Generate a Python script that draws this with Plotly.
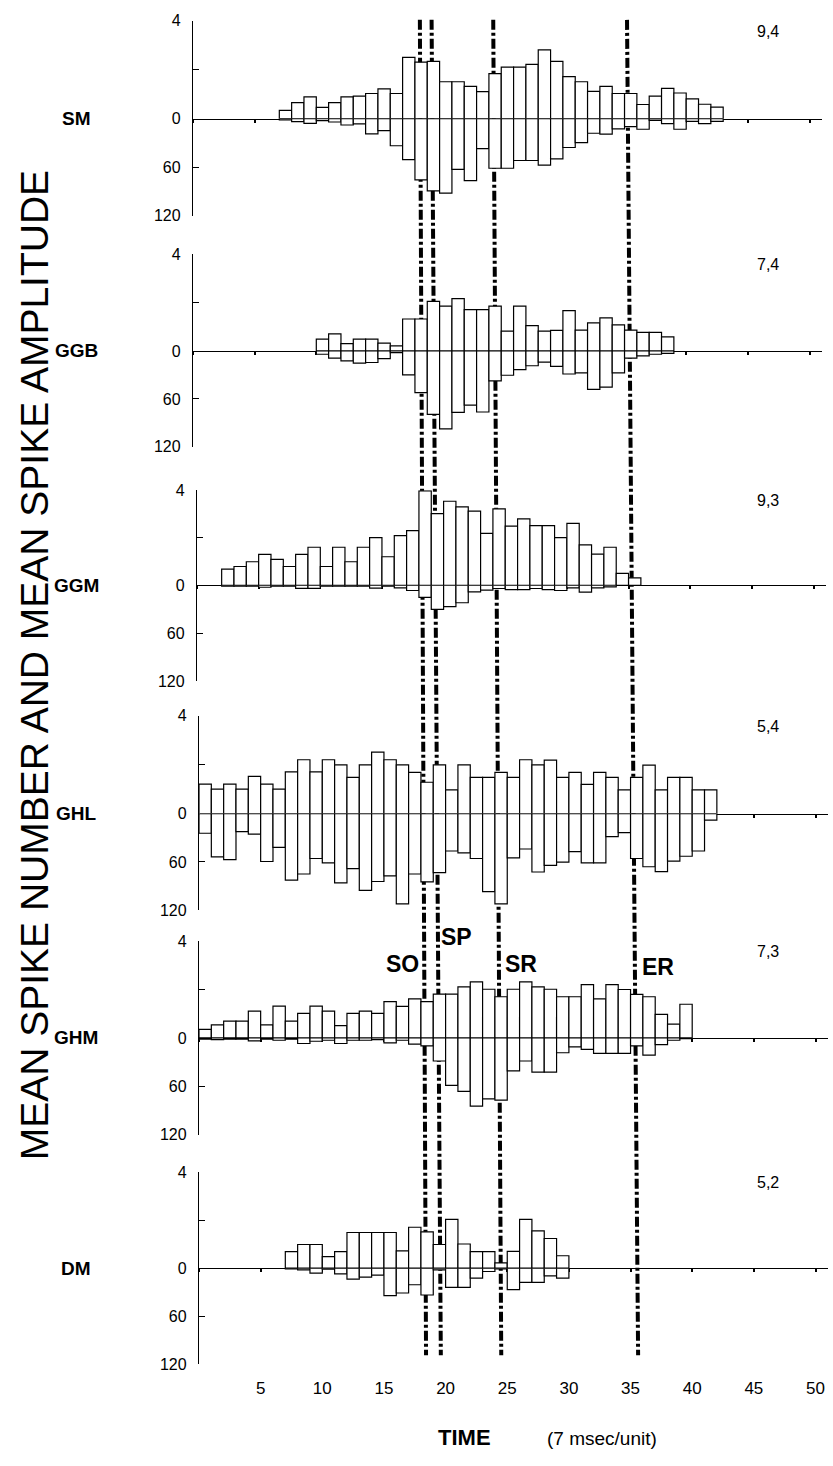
import plotly.graph_objects as go

W, H = 833, 1466
FONT = "Liberation Sans, Arial, Helvetica, sans-serif"

# ---------------- data ----------------
PANELS = ["SM", "GGB", "GGM", "GHL", "GHM", "DM"]
RIGHT_LABELS = ["9,4", "7,4", "9,3", "5,4", "7,3", "5,2"]
X_TICKS = [5, 10, 15, 20, 25, 30, 35, 40, 45, 50]

# first time unit of each panel's histogram
SM_START = 7
SM_COUNT = [0.34, 0.66, 0.89, 0.46, 0.66, 0.89, 0.92, 1.03, 1.22, 1.03,
            2.51, 2.31, 2.34, 1.51, 1.51, 1.32, 1.11, 1.84, 2.11, 2.11,
            2.22, 2.81, 2.34, 1.72, 1.51, 1.12, 1.32, 1.03, 1.03, 0.58,
            0.92, 1.24, 1.05, 0.81, 0.59, 0.47]
SM_AMP = [1.6, 3.7, 5.7, 2.4, 4.1, 7.8, 6.5, 18.8, 14.7, 33.5,
          50.6, 75.9, 89.4, 92.2, 62.9, 76.7, 37.1, 61.4, 61.4, 51.8,
          51.8, 57.5, 49.8, 35.7, 29.6, 18.0, 19.2, 12.7, 9.8, 13.1,
          2.0, 6.1, 13.1, 3.3, 6.1, 3.3]

GGB_START = 10
GGB_COUNT = [0.49, 0.71, 0.30, 0.49, 0.49, 0.32, 0.21, 1.32, 1.32, 2.05,
             1.85, 2.16, 1.71, 1.71, 1.85, 0.82, 1.85, 1.05, 0.82, 0.85,
             1.67, 0.86, 1.16, 1.37, 1.08, 0.86, 0.77, 0.77, 0.58]
GGB_AMP = [4.1, 9.0, 12.3, 15.2, 14.4, 9.5, 2.1, 30.0, 52.2, 79.3,
           97.4, 76.9, 67.8, 76.4, 37.4, 30.4, 23.4, 18.5, 13.9, 19.3,
           28.8, 27.5, 48.0, 45.2, 27.5, 9.0, 6.2, 4.1, 2.9]

GGM_START = 2
GGM_COUNT = [0.68, 0.79, 0.99, 1.30, 1.09, 0.79, 1.30, 1.60, 0.79, 1.60,
             0.99, 1.60, 2.01, 1.20, 2.09, 2.30, 3.98, 3.02, 3.54, 3.30,
             3.12, 2.19, 3.22, 2.49, 2.80, 2.51, 2.51, 2.01, 2.61, 1.70,
             1.31, 1.60, 0.50, 0.31]
GGM_AMP = [1.0, 1.0, 1.0, 2.5, 1.0, 1.0, 4.0, 4.0, 1.0, 1.0,
           1.0, 1.0, 3.7, 1.0, 3.3, 6.6, 15.3, 30.1, 26.8, 21.9,
           8.2, 6.2, 4.1, 5.4, 5.4, 4.1, 5.4, 6.6, 3.3, 8.7,
           3.3, 2.0, 0.0, 0.0]

GHL_START = 0
GHL_COUNT = [1.20, 1.00, 1.20, 1.00, 1.52, 1.20, 1.00, 1.70, 2.20, 1.70,
             2.20, 1.99, 1.48, 1.99, 2.51, 2.20, 1.99, 1.68, 1.28, 1.99,
             0.97, 1.99, 1.48, 1.48, 1.68, 1.48, 2.20, 1.99, 2.18, 1.48,
             1.68, 1.19, 1.68, 1.48, 0.97, 1.48, 1.98, 0.97, 1.48, 1.48,
             0.97, 0.97]
GHL_AMP = [24.4, 53.7, 57.0, 22.4, 25.6, 59.4, 41.9, 82.6, 74.9, 55.7,
           61.0, 85.8, 68.3, 95.2, 84.2, 77.3, 111.9, 74.9, 84.6, 73.2,
           46.4, 48.8, 55.7, 96.8, 111.9, 54.9, 43.9, 72.4, 64.3, 60.2,
           47.2, 61.0, 61.0, 28.5, 23.6, 55.7, 65.9, 72.0, 59.0, 52.9,
           46.4, 8.1]

GHM_START = 0
GHM_COUNT = [0.35, 0.54, 0.69, 0.69, 1.11, 0.54, 1.31, 0.69, 1.01, 1.31,
             1.11, 0.51, 1.01, 1.11, 1.01, 1.50, 1.30, 1.61, 1.50, 1.81,
             1.81, 2.11, 2.31, 2.01, 1.70, 2.01, 2.31, 2.11, 2.01, 1.70,
             1.70, 2.20, 1.61, 2.20, 2.00, 1.80, 1.70, 0.97, 0.57, 1.39]
GHM_AMP = [1.6, 2.0, 1.6, 1.6, 3.7, 1.6, 2.9, 1.6, 6.9, 4.1,
           2.9, 6.9, 2.9, 2.9, 2.0, 6.1, 2.9, 7.8, 9.8, 28.6,
           58.8, 66.1, 84.5, 75.5, 77.1, 40.8, 28.6, 42.4, 42.4, 18.4,
           11.0, 14.3, 19.2, 19.2, 19.2, 9.8, 21.2, 8.2, 2.9, 0.8]

DM_START = 7
DM_COUNT = [0.69, 0.99, 0.99, 0.48, 0.69, 1.49, 1.49, 1.49, 1.49, 0.72,
            1.71, 1.52, 0.99, 2.04, 1.01, 0.69, 0.69, 0.22, 0.70, 2.04,
            1.56, 1.24, 0.52]
DM_AMP = [0.8, 2.1, 6.2, 1.2, 7.0, 13.7, 11.2, 8.7, 34.3, 31.0,
          20.7, 33.5, 2.1, 24.0, 24.0, 12.4, 4.1, 1.0, 26.9, 17.8,
          17.8, 9.5, 12.4]

STARTS = [SM_START, GGB_START, GGM_START, GHL_START, GHM_START, DM_START]
COUNTS = [SM_COUNT, GGB_COUNT, GGM_COUNT, GHL_COUNT, GHM_COUNT, DM_COUNT]
AMPS = [SM_AMP, GGB_AMP, GGM_AMP, GHL_AMP, GHM_AMP, DM_AMP]

# event markers (time units, SM axis): top and bottom ends of each slanted line
EVENTS = ["SO", "SP", "SR", "ER"]
EVENT_TOP = [18.4, 19.35, 24.35, 35.2]
EVENT_BOTTOM = [18.9, 20.1, 25.0, 36.1]

# ---------------- layout geometry (pixels) ----------------
AXIS_X = [193, 193, 197, 199, 199, 199]
Y4 = [13, 249, 488, 716, 944, 1178]
Y0 = [112, 347, 584, 815, 1042, 1275]
Y120 = [210, 444, 681, 913, 1140, 1372]
UNIT_PX = 12.33
X_MAX = 51


def py(p):
    return 1 - p / H


fig = go.Figure()
lay = dict(
    width=W, height=H, margin=dict(l=0, r=0, t=0, b=0),
    paper_bgcolor="white", plot_bgcolor="rgba(0,0,0,0)",
    showlegend=False, barmode="overlay",
    font=dict(family=FONT, color="black"),
)

bar_style = dict(marker=dict(color="white", line=dict(color="black", width=1.2)),
                 width=1, hoverinfo="skip", cliponaxis=True)

annotations = []
for i, name in enumerate(PANELS):
    xi = i + 1
    yc = 2 * i + 1
    ya = 2 * i + 2
    xs = [STARTS[i] + k + 0.5 for k in range(len(COUNTS[i]))]
    fig.add_trace(go.Bar(x=xs, y=COUNTS[i], base=0, xaxis=f"x{xi}", yaxis=f"y{yc}", **bar_style))
    fig.add_trace(go.Bar(x=xs, y=AMPS[i], base=0, xaxis=f"x{xi}", yaxis=f"y{ya}", **bar_style))

    x0 = AXIS_X[i] / W
    x1 = (AXIS_X[i] + X_MAX * UNIT_PX) / W
    lay[f"xaxis{xi}"] = dict(
        domain=[x0, x1], range=[0, X_MAX], anchor="free", position=py(Y0[i]),
        showline=True, linecolor="black", linewidth=1.2,
        ticks="outside", ticklen=3, tickwidth=1.5, tickcolor="black",
        tick0=0, dtick=5, showticklabels=False, showgrid=False, zeroline=False,
    )
    common_y = dict(
        anchor=f"x{xi}", showline=True, linecolor="black", linewidth=1.3,
        ticks="inside", ticklen=6, tickwidth=1.3, tickcolor="black",
        showgrid=False, zeroline=False, ticklabelstandoff=8,
        tickfont=dict(size=16, family=FONT, color="black"),
    )
    lay[f"yaxis{yc}"] = dict(domain=[py(Y0[i]), py(Y4[i])], range=[0, 4],
                             tickvals=[0, 2, 4], ticktext=["0", "", "4"], **common_y)
    lay[f"yaxis{ya}"] = dict(domain=[py(Y120[i]), py(Y0[i])], range=[120, 0],
                             tickvals=[60, 120], ticktext=["60", "120"], **common_y)

    annotations.append(dict(text=f"<b>{name}</b>", xref="paper", yref=f"y{yc}",
                            x=76 / W, y=0, xanchor="center", yanchor="middle",
                            showarrow=False, font=dict(size=19, family=FONT)))
    annotations.append(dict(text=RIGHT_LABELS[i], xref="paper", yref=f"y{yc}",
                            x=768 / W, y=4, xanchor="center", yanchor="top",
                            showarrow=False, font=dict(size=16, family=FONT)))

# bottom tick labels (time axis)
lay["xaxis7"] = dict(overlaying="x6", anchor="y12", side="bottom",
                     domain=lay["xaxis6"]["domain"], range=[0, X_MAX],
                     tickvals=X_TICKS, ticktext=[str(v) for v in X_TICKS],
                     ticks="", showline=False, showgrid=False, zeroline=False,
                     ticklabelstandoff=12, tickfont=dict(size=17, family=FONT))
fig.add_trace(go.Scatter(x=[None], y=[None], xaxis="x7", yaxis="y12",
                         mode="markers", hoverinfo="skip"))

# event lines
shapes = []
for t0, t1 in zip(EVENT_TOP, EVENT_BOTTOM):
    shapes.append(dict(type="line", xref="x", yref="paper",
                       x0=t0, y0=py(12), x1=t1, y1=py(1363),
                       line=dict(color="black", width=4, dash="10px,3px,3px,3px"),
                       layer="below"))

# event labels in GHM panel
EVENT_LABEL_X = [16.5, 20.9, 26.1, 37.2]
EVENT_LABEL_Y = [967, 940, 967, 970]
for lab, ex, ey in zip(EVENTS, EVENT_LABEL_X, EVENT_LABEL_Y):
    annotations.append(dict(text=f"<b>{lab}</b>", xref="x5", yref="paper",
                            x=ex, y=py(ey), xanchor="center", yanchor="middle",
                            showarrow=False, font=dict(size=23, family=FONT)))

annotations.append(dict(text="MEAN SPIKE NUMBER AND MEAN SPIKE AMPLITUDE",
                        xref="paper", yref="paper", x=34 / W, y=py(665),
                        xanchor="center", yanchor="middle", textangle=-90,
                        showarrow=False, font=dict(size=39, family=FONT)))
annotations.append(dict(text="<b>TIME</b>", xref="paper", yref="paper",
                        x=464 / W, y=py(1446), xanchor="center", yanchor="middle",
                        showarrow=False, font=dict(size=22, family=FONT)))
annotations.append(dict(text="(7 msec/unit)", xref="paper", yref="paper",
                        x=602 / W, y=py(1447), xanchor="center", yanchor="middle",
                        showarrow=False, font=dict(size=19, family=FONT)))

lay["annotations"] = annotations
lay["shapes"] = shapes
fig.update_layout(**lay)

fig.write_html("out.html")
